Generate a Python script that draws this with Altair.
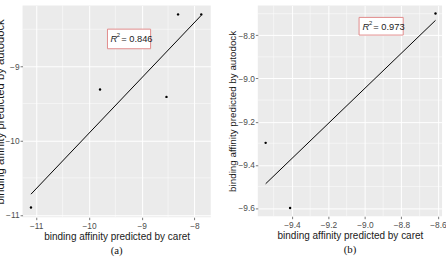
import altair as alt
import pandas as pd

# Panel (a)
a_x = [-11.10, -9.79, -8.53, -8.31, -7.87]
a_y = [-10.90, -9.31, -9.41, -8.30, -8.30]
a_xticks = [-11, -10, -9, -8]
a_yticks = [-11, -10, -9]
a_xminor = [-10.5, -9.5, -8.5]
a_yminor = [-10.5, -9.5, -8.5]
a_label_pos = [-9.24, -8.63]
a_r2 = "= 0.846"

# Panel (b)
b_x = [-9.544, -9.41, -8.613]
b_y = [-9.298, -9.60, -8.699]
b_xticks = [-9.4, -9.2, -9.0, -8.8, -8.6]
b_yticks = [-9.6, -9.4, -9.2, -9.0, -8.8]
b_xminor = [-9.5, -9.3, -9.1, -8.9, -8.7]
b_yminor = [-9.5, -9.3, -9.1, -8.9, -8.7]
b_label_pos = [-8.911, -8.758]
b_r2 = "= 0.973"

x_title = "binding affinity predicted by caret"
y_title = "binding affinity predicted by autodock"

BG = "#EBEBEB"
BOX = "#E08A8A"


def panel(xs, ys, xticks, yticks, xminor, yminor, xdom, ydom, lab, r2, cap,
          w, h, yfs, box_w, box_h, fmt):
    pts = pd.DataFrame({"x": xs, "y": ys})
    xsc = alt.Scale(domain=xdom, nice=False, zero=False)
    ysc = alt.Scale(domain=ydom, nice=False, zero=False)
    xax = alt.Axis(values=xticks, title=x_title, format=fmt, titleFontSize=10.2,
                   labelPadding=2, titlePadding=2)
    yax = alt.Axis(values=yticks, title=y_title, format=fmt, titleFontSize=yfs,
                   labelPadding=1, titlePadding=0)

    vminor = alt.Chart(pd.DataFrame({"v": xminor})).mark_rule(
        color="white", strokeWidth=0.5).encode(x=alt.X("v:Q", scale=xsc, axis=xax))
    hminor = alt.Chart(pd.DataFrame({"v": yminor})).mark_rule(
        color="white", strokeWidth=0.5).encode(y=alt.Y("v:Q", scale=ysc, axis=yax))

    base = alt.Chart(pts).encode(
        x=alt.X("x:Q", scale=xsc, axis=xax),
        y=alt.Y("y:Q", scale=ysc, axis=yax),
    )
    line = base.transform_regression("x", "y").mark_line(color="black", strokeWidth=1)
    dots = base.mark_circle(color="black", size=6, opacity=1)

    ldf = pd.DataFrame({"x": [lab[0]], "y": [lab[1]]})
    lb = alt.Chart(ldf).encode(
        x=alt.X("x:Q", scale=xsc, axis=xax),
        y=alt.Y("y:Q", scale=ysc, axis=yax),
    )
    hh = box_h / box_w
    shape = f"M-1,-{hh} L1,-{hh} L1,{hh} L-1,{hh} Z"
    box = lb.mark_point(shape=shape, size=box_w * box_w, filled=False,
                        fill="white", fillOpacity=1, stroke=BOX, strokeWidth=1,
                        opacity=1)
    t_r = lb.mark_text(text="R", fontStyle="italic", fontSize=9.5, align="left",
                       baseline="middle", dx=-19, dy=0.5, color="#222222",
                       font="Liberation Sans")
    t_2 = lb.mark_text(text="2", fontSize=6, align="left", baseline="middle",
                       dx=-12.5, dy=-3.5, color="#222222", font="Liberation Sans")
    t_v = lb.mark_text(text=r2, fontSize=9.5, align="left", baseline="middle",
                       dx=-8, dy=0.5, color="#222222", font="Liberation Sans")

    return alt.layer(vminor, hminor, line, dots, box, t_r, t_2, t_v).properties(
        width=w, height=h,
        title=alt.TitleParams(cap, orient="bottom", font="Liberation Serif",
                              fontSize=11, fontWeight="normal", offset=3,
                              color="#111111"),
    )


pa = panel(a_x, a_y, a_xticks, a_yticks, a_xminor, a_yminor,
           [-11.26, -7.69], [-11.03, -8.18], a_label_pos, a_r2, "(a)",
           192, 216, 11.5, 44, 20, "d")
pb = panel(b_x, b_y, b_xticks, b_yticks, b_xminor, b_yminor,
           [-9.587, -8.577], [-9.638, -8.662], b_label_pos, b_r2, "(b)",
           188, 215, 10, 45, 18, ".1f")

chart = alt.hconcat(pa, pb, spacing=16).properties(
    padding={"left": -6, "top": 2, "right": -1, "bottom": 0},
).configure_view(
    fill=BG, stroke=None
).configure_axis(
    grid=True, gridColor="white", gridWidth=1,
    domain=False, tickColor="#555555", tickSize=2.5, tickWidth=0.8,
    labelColor="#4D4D4D", labelFontSize=8.5, labelFont="Liberation Sans",
    titleFont="Liberation Sans", titleFontWeight="normal",
    titleColor="#1a1a1a",
).configure_title(anchor="middle")

chart.save("out.html", embed_options={"renderer": "svg", "actions": False})
